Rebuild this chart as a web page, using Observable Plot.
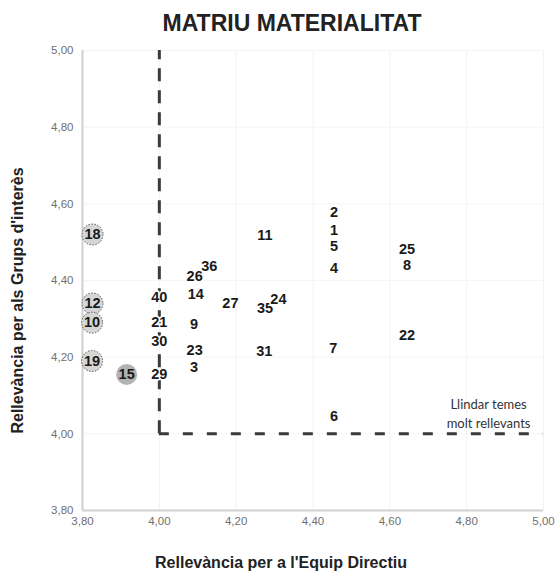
<!DOCTYPE html>
<html>
<head>
<meta charset="utf-8">
<script src="https://cdn.jsdelivr.net/npm/d3@7"></script>
<script src="https://cdn.jsdelivr.net/npm/@observablehq/plot@0.6"></script>
<style>
  body { margin: 0; background: #fff; }
  #title {
    box-sizing: border-box; width: 558px; height: 40px;
    padding-top: 12px; padding-left: 26px; text-align: center;
    font: bold 23px "Liberation Sans", Arial, sans-serif; line-height: 1; color: #222;
  }
</style>
</head>
<body>
<div id="title">MATRIU MATERIALITAT</div>
<div id="chart"></div>
<script>
// Topic ids, "Rellevància per a l'Equip Directiu" (x), "Rellevància per als Grups d'interès" (y)
const ids    = ["18","12","10","19","15","40","21","30","29","36","26","14","27","9","23","3","11","35","24","31","2","1","5","4","25","8","22","7","6"];
const equip  = [3.826,3.826,3.825,3.825,3.915,4.00,4.00,4.00,4.00,4.13,4.092,4.095,4.185,4.09,4.092,4.09,4.275,4.275,4.31,4.273,4.455,4.455,4.455,4.455,4.645,4.645,4.645,4.453,4.455];
const grups  = [4.52,4.34,4.29,4.19,4.155,4.355,4.29,4.24,4.155,4.437,4.41,4.365,4.34,4.286,4.218,4.174,4.518,4.327,4.35,4.215,4.577,4.532,4.49,4.432,4.48,4.44,4.258,4.223,4.045];
const circledIds = ["18","12","10","19","15"];
const darkCircle = ["15"];

const xTicks = [3.8, 4.0, 4.2, 4.4, 4.6, 4.8, 5.0];
const yTicks = [3.8, 4.0, 4.2, 4.4, 4.6, 4.8, 5.0];
const threshold = 4.0;
const axisMax = 5.0;

const xLabel = "Rellevància per a l'Equip Directiu";
const yLabel = "Rellevància per als Grups d'interès";
const note = {text: "Llindar temes\nmolt rellevants", x: 4.857, y: 4.056};

const data = ids.map((id, i) => ({id, x: equip[i], y: grups[i]}));
const circled = data.filter(d => circledIds.includes(d.id));
const fmt = d => d.toFixed(2).replace(".", ",");

const chart = Plot.plot({
  width: 558, height: 533,
  marginTop: 10, marginBottom: 63, marginLeft: 82, marginRight: 15,
  x: {domain: [3.8, 5.0]},
  y: {domain: [3.8, 5.0]},
  style: {fontFamily: "'Liberation Sans', Arial, sans-serif", fontSize: "11.5px", background: "white", overflow: "visible"},
  marks: [
    Plot.gridX(xTicks.slice(1), {stroke: "#f2f2f2", strokeOpacity: 1}),
    Plot.gridY(yTicks.slice(1), {stroke: "#f4f4f4", strokeOpacity: 1}),
    Plot.ruleX([3.8], {stroke: "#d0d0d0", strokeWidth: 2}),
    Plot.ruleY([3.8], {stroke: "#d0d0d0", strokeWidth: 2}),
    Plot.axisX(xTicks, {tickSize: 0, tickPadding: 6, tickFormat: fmt, label: null, fill: "#707070"}),
    Plot.axisY(yTicks, {tickSize: 0, tickPadding: 9, tickFormat: fmt, label: null, fill: "#707070"}),
    Plot.ruleX([{x: threshold, y1: threshold, y2: axisMax}], {x: "x", y1: "y1", y2: "y2", stroke: "#3a3a3a", strokeWidth: 3, strokeDasharray: "13,9"}),
    Plot.ruleY([{y: threshold, x1: threshold, x2: axisMax}], {y: "y", x1: "x1", x2: "x2", stroke: "#3a3a3a", strokeWidth: 3, strokeDasharray: "10,14"}),
    Plot.dot(circled, {x: "x", y: "y", r: 10.5,
      fill: d => darkCircle.includes(d.id) ? "#b3b3b3" : "#d6d6d6",
      stroke: d => darkCircle.includes(d.id) ? "none" : "#555",
      strokeWidth: 1, strokeDasharray: "1.5,1.5"}),
    Plot.text(data, {x: "x", y: "y", text: "id", fontWeight: "bold", fontSize: 14.5, fill: "#1a1a1a",
      stroke: d => circledIds.includes(d.id) ? "none" : "white", strokeWidth: 3}),
    Plot.text([note], {x: "x", y: "y", text: "text", fontFamily: "Lato, 'Open Sans', sans-serif", fontSize: 13, lineHeight: 1.5, fill: "#333"}),
    Plot.text([xLabel], {frameAnchor: "bottom", dy: 57, dx: -32, fontWeight: "bold", fontSize: 16, fill: "#222", letterSpacing: 0.5}),
    Plot.text([yLabel], {frameAnchor: "left", textAnchor: "middle", dx: -65, dy: 20, rotate: -90, fontWeight: "bold", fontSize: 16, fill: "#222"})
  ]
});
document.getElementById("chart").appendChild(chart);
</script>
</body>
</html>
